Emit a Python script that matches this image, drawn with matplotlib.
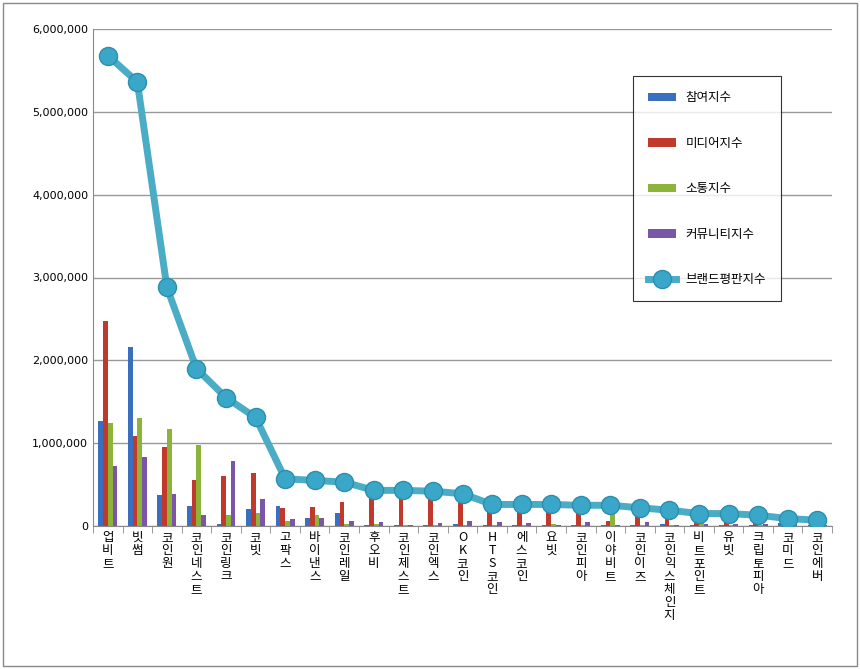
import matplotlib
matplotlib.use("Agg")
import matplotlib.pyplot as plt
import numpy as np
from matplotlib.patches import Rectangle

plt.rcParams['font.family'] = ['Noto Sans CJK KR','Noto Sans CJK JP','Noto Sans CJK SC','DejaVu Sans']

categories = ["업비트","빗썸","코인원","코인네스트","코인링크","코빗","고팍스","바이낸스","코인레일","후오비",
              "코인제스트","코인엑스","OK코인","HTS코인","에스코인","요빗","코인피아","이야비트","코인이즈",
              "코인익스체인지","비트포인트","유빗","크립토피아","코미드","코인에버"]
participation = [1.27,2.16,0.38,0.24,0.03,0.21,0.24,0.10,0.16,0.01,0.01,0.01,0.03,0.01,0.01,0.01,0.01,0.01,0.01,0.03,0.01,0.01,0.01,0.04,0.01]
media = [2.47,1.09,0.95,0.55,0.60,0.64,0.22,0.23,0.29,0.40,0.40,0.40,0.28,0.20,0.20,0.20,0.20,0.06,0.18,0.12,0.06,0.08,0.05,0.01,0.01]
communication = [1.24,1.30,1.17,0.98,0.13,0.16,0.06,0.13,0.03,0.03,0.01,0.01,0.01,0.01,0.01,0.03,0.01,0.20,0.01,0.01,0.08,0.01,0.01,0.01,0.01]
community = [0.72,0.83,0.39,0.13,0.79,0.33,0.08,0.10,0.06,0.05,0.01,0.04,0.06,0.05,0.04,0.01,0.05,0.01,0.05,0.01,0.03,0.03,0.02,0.02,0.01]
brand = [5.68,5.36,2.88,1.90,1.55,1.31,0.57,0.55,0.53,0.43,0.43,0.42,0.39,0.26,0.26,0.26,0.25,0.25,0.22,0.19,0.15,0.15,0.13,0.09,0.07]
series_names = ["참여지수","미디어지수","소통지수","커뮤니티지수","브랜드평판지수"]

def scale(v): return [x*1e6 for x in v]

fig = plt.figure(figsize=(8.6,6.69), dpi=100)
fig.patches.append(Rectangle((0.004,0.004),0.992,0.992,transform=fig.transFigure,fill=False,edgecolor='#888888',lw=1))
ax = fig.add_axes([93/860, 1-526/669, (832-93)/860, (526-29)/669])
x = np.arange(len(categories))
w = 0.16
cols = ['#3a6fc0','#c0392b','#8db43a','#7a55a8']
handles = []
for i,(vals,c) in enumerate(zip([participation,media,communication,community],cols)):
    handles.append(ax.bar(x+(i-1.5)*w, scale(vals), w, color=c, label=series_names[i], zorder=2))
ln, = ax.plot(x, scale(brand), color='#4bacc6', lw=5, marker='o', ms=13, markerfacecolor='#3aa7c8',
        markeredgecolor='#2a8fae', label=series_names[4], zorder=3)
handles.append(ln)
ax.set_ylim(0,6e6)
ax.set_xlim(-0.5,len(categories)-0.5)
ax.set_yticks(np.arange(0,6.01e6,1e6))
ax.set_yticklabels([f"{int(v):,}" for v in np.arange(0,6.01e6,1e6)], fontsize=8, fontfamily='DejaVu Sans')
ax.yaxis.grid(True, color='#999999', lw=1, zorder=0)
ax.set_axisbelow(True)
for s in ['top','right']: ax.spines[s].set_visible(False)
ax.spines['left'].set_color('#888888'); ax.spines['bottom'].set_color('#888888')
ax.tick_params(axis='y', length=0)
ax.set_xticks(x)
ax.set_xticklabels(["\n".join(list(c)) for c in categories], fontsize=9, linespacing=1.0, va='top')
ax.set_xticks(np.arange(-0.5,len(categories),1), minor=True)
ax.tick_params(axis='x', which='major', length=0)
ax.tick_params(axis='x', which='minor', length=5, color='#888888')
leg = ax.legend(handles=handles, labels=series_names, loc='upper left',
                bbox_to_anchor=((627-93)/739, 1-(70-29)/497), fontsize=9,
                frameon=True, fancybox=False, edgecolor='black', labelspacing=2.6,
                borderpad=1.2, handlelength=2.2)
leg.get_frame().set_linewidth(0.8)
fig.savefig("out.png", dpi=100)
